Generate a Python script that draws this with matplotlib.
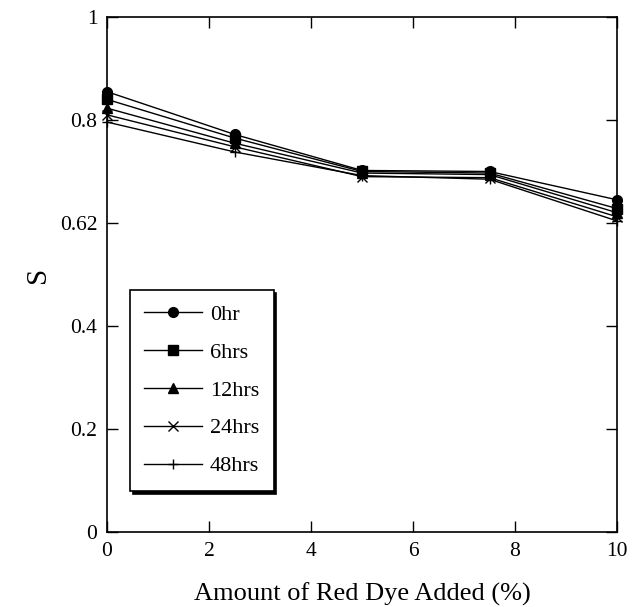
import matplotlib.pyplot as plt
import numpy as np

plt.rcParams['font.family'] = ['Liberation Serif', 'DejaVu Serif']

dye = [0, 2.5, 5, 7.5, 10]
s_0hr = [0.855, 0.772, 0.702, 0.700, 0.645]
s_6hrs = [0.840, 0.765, 0.700, 0.697, 0.628]
s_12hrs = [0.823, 0.755, 0.697, 0.694, 0.620]
s_24hrs = [0.810, 0.748, 0.690, 0.688, 0.612]
s_48hrs = [0.796, 0.738, 0.692, 0.685, 0.604]

series = [
    ("0hr", s_0hr, "o"),
    ("6hrs", s_6hrs, "s"),
    ("12hrs", s_12hrs, "^"),
    ("24hrs", s_24hrs, "x"),
    ("48hrs", s_48hrs, "+"),
]

yticks = [0, 0.2, 0.4, 0.6, 0.8, 1]
ytick_labels = ["0", "0.2", "0.4", "0.62", "0.8", "1"]

fig = plt.figure(figsize=(6.42, 6.07), dpi=100)
ax = fig.add_axes([0.1667, 0.1236, 0.7944, 0.8484])

for name, vals, m in series:
    ax.plot(dye, vals, color="black", lw=1, marker=m, ms=7,
            mew=1, mfc="black", mec="black", label=name, clip_on=False)

ax.set_xlim(0, 10)
ax.set_ylim(0, 1)
ax.set_xticks(np.arange(0, 11, 2))
ax.set_yticks(yticks)
ax.set_yticklabels(ytick_labels)
ax.tick_params(direction="in", length=8, width=1, labelsize=15.5,
               top=True, right=True, pad=7)
for sp in ax.spines.values():
    sp.set_linewidth(1.2)

ax.set_xlabel("Amount of Red Dye Added (%)", fontsize=19, labelpad=16)
ax.set_ylabel("S", fontsize=21, labelpad=6)

leg = ax.legend(loc="lower left", bbox_to_anchor=(0.045, 0.08),
                fontsize=16, frameon=True, fancybox=False,
                shadow={"color": "black", "alpha": 1},
                handlelength=2.6, labelspacing=0.78, borderpad=0.65,
                handletextpad=0.35, borderaxespad=0)
leg.get_frame().set_edgecolor("black")
leg.get_frame().set_linewidth(1.2)

fig.savefig("out.png", dpi=100)
